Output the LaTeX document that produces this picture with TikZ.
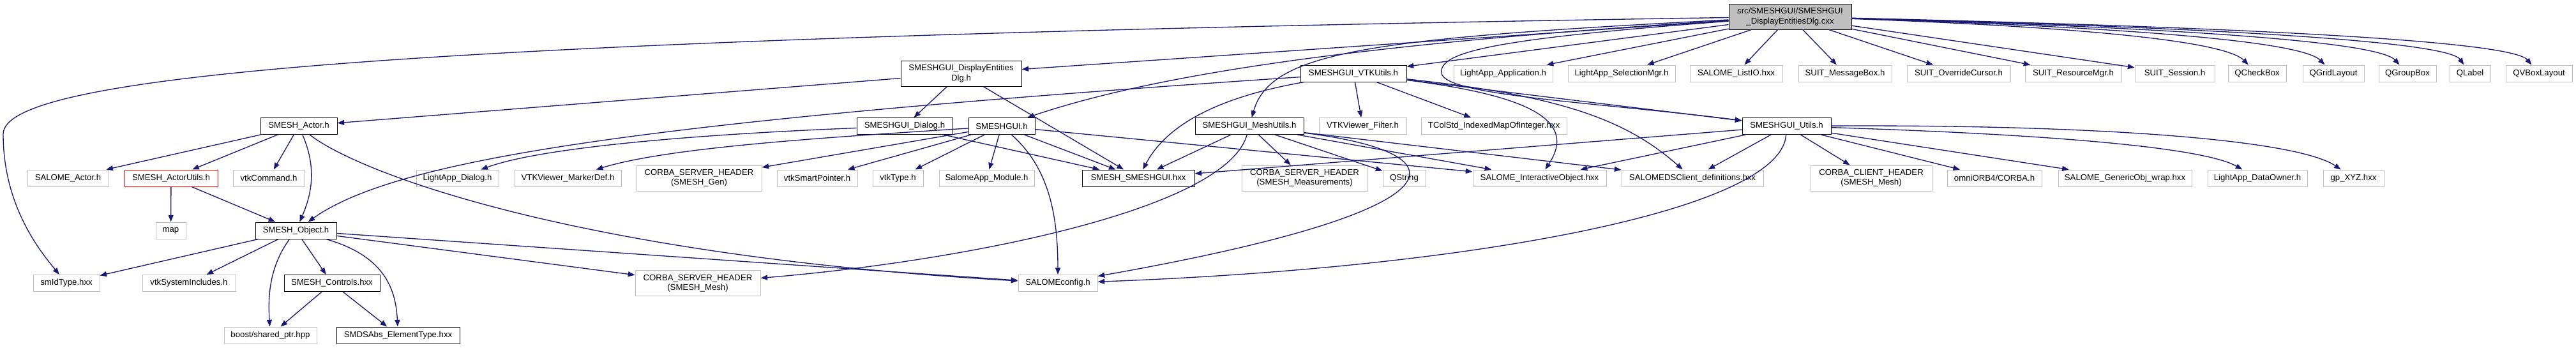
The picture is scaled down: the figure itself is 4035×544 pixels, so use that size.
\documentclass[tikz,border=0pt]{standalone}
\usepackage{fontspec}
\setmainfont{Liberation Sans}
\usetikzlibrary{arrows.meta}

\definecolor{edgeblue}{RGB}{25,25,112}
\definecolor{boxgray}{RGB}{191,191,191}

\tikzset{every picture/.style={line width=0.75pt}}
\tikzset{
  hdr/.style={draw=boxgray, rectangle, inner sep=0pt, minimum height=19.5pt, align=center, font=\fontsize{9.9}{11.5}\selectfont},
  hdrdoc/.style={hdr, draw=black},
  hdrred/.style={hdr, draw=red},
  hdrroot/.style={hdr, draw=black, fill=boxgray},
  tall/.style={minimum height=30pt},
  wd/.style={minimum width=0.75pt*#1},
  edge/.style={draw=edgeblue, line width=1pt, -{Triangle[length=8pt,width=6pt]}}
}

\begin{document}
\begin{tikzpicture}[x=0.75pt,y=0.75pt,yscale=-1,xscale=1]
	\useasboundingbox (0,0) rectangle (4035,544);

	%Root file
	\node[hdrroot, tall, wd=192] (root) at (2804,26) {src/SMESHGUI/SMESHGUI\\\_DisplayEntitiesDlg.cxx};

	%Row 1
	\node[hdrdoc, tall, wd=189] (dispdlg) at (1505.5,115) {SMESHGUI\_DisplayEntities\\Dlg.h};
	\node[hdrdoc, wd=166] (vtkutils) at (2120,115) {SMESHGUI\_VTKUtils.h};
	\node[hdr, wd=155] (laapp) at (2354.5,115) {LightApp\_Application.h};
	\node[hdr, wd=168] (laselmgr) at (2540,115) {LightApp\_SelectionMgr.h};
	\node[hdr, wd=145] (listio) at (2719.5,115) {SALOME\_ListIO.hxx};
	\node[hdr, wd=146] (msgbox) at (2890,115) {SUIT\_MessageBox.h};
	\node[hdr, wd=162] (ovrcursor) at (3068,115) {SUIT\_OverrideCursor.h};
	\node[hdr, wd=151] (resmgr) at (3247.5,115) {SUIT\_ResourceMgr.h};
	\node[hdr, wd=125] (session) at (3406.5,115) {SUIT\_Session.h};
	\node[hdr, wd=91] (qcheckbox) at (3535.5,115) {QCheckBox};
	\node[hdr, wd=96] (qgridlayout) at (3655,115) {QGridLayout};
	\node[hdr, wd=90] (qgroupbox) at (3771,115) {QGroupBox};
	\node[hdr, wd=64] (qlabel) at (3869,115) {QLabel};
	\node[hdr, wd=104] (qvboxlayout) at (3977,115) {QVBoxLayout};

	%Row 2
	\node[hdrdoc, wd=120] (actor) at (468,197.5) {SMESH\_Actor.h};
	\node[hdrdoc, wd=150] (dialog) at (1417,197.5) {SMESHGUI\_Dialog.h};
	\node[hdrdoc, wd=104] (smeshgui) at (1569,197.5) {SMESHGUI.h};
	\node[hdrdoc, wd=170] (meshutils) at (1957,197.5) {SMESHGUI\_MeshUtils.h};
	\node[hdr, wd=137] (vtkfilter) at (2134.5,197.5) {VTKViewer\_Filter.h};
	\node[hdr, wd=228] (tcolstd) at (2340,197.5) {TColStd\_IndexedMapOfInteger.hxx};
	\node[hdrdoc, wd=139] (guiutils) at (2798.5,197.5) {SMESHGUI\_Utils.h};

	%Row 3
	\node[hdr, wd=127] (salomeactor) at (106.5,279) {SALOME\_Actor.h};
	\node[hdrred, wd=146] (actorutils) at (268,279) {SMESH\_ActorUtils.h};
	\node[hdr, wd=112] (vtkcommand) at (421,279) {vtkCommand.h};
	\node[hdr, wd=129] (ladialog) at (716.5,279) {LightApp\_Dialog.h};
	\node[hdr, wd=167] (markerdef) at (889.5,279) {VTKViewer\_MarkerDef.h};
	\node[hdr, tall, wd=196] (corbagen) at (1095,279) {CORBA\_SERVER\_HEADER\\(SMESH\_Gen)};
	\node[hdr, wd=126] (vtksmartptr) at (1280,279) {vtkSmartPointer.h};
	\node[hdr, wd=79] (vtktype) at (1406.5,279) {vtkType.h};
	\node[hdr, wd=149] (appmodule) at (1545.5,279) {SalomeApp\_Module.h};
	\node[hdrdoc, wd=176] (smeshguihxx) at (1783,279) {SMESH\_SMESHGUI.hxx};
	\node[hdr, tall, wd=197] (corbameas) at (2043.5,279) {CORBA\_SERVER\_HEADER\\(SMESH\_Measurements)};
	\node[hdr, wd=67] (qstring) at (2199.5,279) {QString};
	\node[hdr, wd=209] (interobj) at (2411.5,279) {SALOME\_InteractiveObject.hxx};
	\node[hdr, wd=222] (dsclient) at (2651,279) {SALOMEDSClient\_definitions.hxx};
	\node[hdr, tall, wd=190] (corbaclient) at (2931,279) {CORBA\_CLIENT\_HEADER\\(SMESH\_Mesh)};
	\node[hdr, wd=148] (omniorb) at (3124,279) {omniORB4/CORBA.h};
	\node[hdr, wd=209] (genericobj) at (3328.5,279) {SALOME\_GenericObj\_wrap.hxx};
	\node[hdr, wd=156] (dataowner) at (3536,279) {LightApp\_DataOwner.h};
	\node[hdr, wd=95] (gpxyz) at (3686.5,279) {gp\_XYZ.hxx};

	%Row 4
	\node[hdr, wd=47] (map) at (267.5,361) {map};
	\node[hdrdoc, wd=127] (object) at (463.5,361) {SMESH\_Object.h};

	%Row 5
	\node[hdr, wd=104] (smidtype) at (104,443.5) {smIdType.hxx};
	\node[hdr, wd=146] (vtksysinc) at (296,443.5) {vtkSystemIncludes.h};
	\node[hdrdoc, wd=150] (controls) at (520,443.5) {SMESH\_Controls.hxx};
	\node[hdr, tall, wd=196] (corbamesh) at (1093,443.5) {CORBA\_SERVER\_HEADER\\(SMESH\_Mesh)};
	\node[hdr, wd=124] (salomeconfig) at (1657,443.5) {SALOMEconfig.h};

	%Row 6
	\node[hdr, wd=145] (sharedptr) at (423.5,525) {boost/shared\_ptr.hpp};
	\node[hdrdoc, wd=193] (elemtype) at (623.5,525) {SMDSAbs\_ElementType.hxx};

	%Edges from the root file
	\draw[edge] (root) .. controls (600,60) and (5,120) .. (5,210) .. controls (5,320) and (60,390) .. (smidtype);
	\draw[edge] (root) -- (dispdlg);
	\draw[edge] (root) -- (vtkutils);
	\draw[edge] (root) .. controls (2100,70) and (1800,120) .. (smeshgui);
	\draw[edge] (root) .. controls (2150,60) and (1990,80) .. (meshutils);
	\draw[edge] (root) .. controls (2350,60) and (2252,80) .. (2258,115) .. controls (2265,150) and (2500,160) .. (guiutils);
	\foreach \n in {laapp,laselmgr,listio,msgbox,ovrcursor,resmgr,session}
		\draw[edge] (root) -- (\n);
	\draw[edge] (root) .. controls (3200,40) and (3480,60) .. (qcheckbox);
	\draw[edge] (root) .. controls (3250,40) and (3600,60) .. (qgridlayout);
	\draw[edge] (root) .. controls (3300,40) and (3720,60) .. (qgroupbox);
	\draw[edge] (root) .. controls (3350,40) and (3830,60) .. (qlabel);
	\draw[edge] (root) .. controls (3400,40) and (3930,60) .. (qvboxlayout);

	%SMESHGUI_DisplayEntitiesDlg.h
	\draw[edge] (dispdlg) -- (actor);
	\draw[edge] (dispdlg) -- (dialog);
	\draw[edge] (dispdlg) -- (smeshguihxx);

	%SMESH_Actor.h
	\foreach \n in {salomeactor,actorutils,vtkcommand}
		\draw[edge] (actor) -- (\n);
	\draw[edge] (actor) .. controls (495,260) and (490,300) .. (object);
	\draw[edge] (actor) .. controls (560,270) and (900,400) .. (salomeconfig);
	\draw[edge] (actorutils) -- (map);
	\draw[edge] (actorutils) -- (object);

	%SMESH_Object.h
	\foreach \n in {smidtype,vtksysinc,controls,salomeconfig,corbamesh}
		\draw[edge] (object) -- (\n);
	\draw[edge] (object) .. controls (420,420) and (420,470) .. (sharedptr);
	\draw[edge] (object) .. controls (600,400) and (620,450) .. (elemtype);
	\draw[edge] (controls) -- (sharedptr);
	\draw[edge] (controls) -- (elemtype);

	%SMESHGUI_Dialog.h and SMESHGUI.h
	\draw[edge] (dialog) .. controls (1100,210) and (850,230) .. (ladialog);
	\draw[edge] (dialog) -- (smeshguihxx);
	\draw[edge] (smeshgui) .. controls (1300,215) and (1050,230) .. (markerdef);
	\foreach \n in {corbagen,vtksmartptr,vtktype,appmodule,smeshguihxx,interobj}
		\draw[edge] (smeshgui) -- (\n);
	\draw[edge] (smeshgui) .. controls (1640,260) and (1657,330) .. (salomeconfig);

	%SMESHGUI_MeshUtils.h
	\foreach \n in {smeshguihxx,corbameas,qstring,interobj,dsclient}
		\draw[edge] (meshutils) -- (\n);
	\draw[edge] (meshutils) .. controls (1920,330) and (1500,410) .. (corbamesh);
	\draw[edge] (meshutils) .. controls (2300,240) and (2300,330) .. (salomeconfig);

	%SMESHGUI_VTKUtils.h
	\draw[edge] (vtkutils) .. controls (1000,190) and (620,250) .. (object);
	\draw[edge] (vtkutils) .. controls (1920,150) and (1830,190) .. (smeshguihxx);
	\foreach \n in {vtkfilter,tcolstd,guiutils}
		\draw[edge] (vtkutils) -- (\n);
	\draw[edge] (vtkutils) .. controls (2400,150) and (2470,190) .. (interobj);
	\draw[edge] (vtkutils) .. controls (2450,150) and (2550,190) .. (dsclient);

	%SMESHGUI_Utils.h
	\foreach \n in {smeshguihxx,interobj,dsclient,corbaclient,omniorb,genericobj}
		\draw[edge] (guiutils) -- (\n);
	\draw[edge] (guiutils) .. controls (3200,210) and (3450,230) .. (dataowner);
	\draw[edge] (guiutils) .. controls (3300,195) and (3600,220) .. (gpxyz);
	\draw[edge] (guiutils) .. controls (2790,330) and (2300,420) .. (salomeconfig);

\end{tikzpicture}
\end{document}
